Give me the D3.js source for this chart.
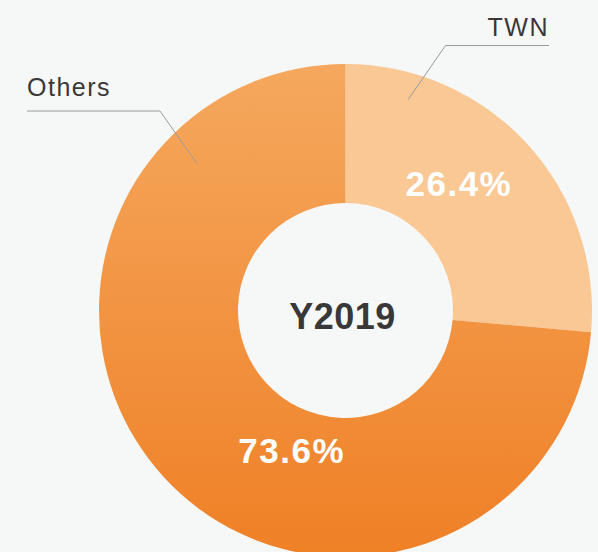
<!DOCTYPE html>
<html>
<head>
<meta charset="utf-8">
<script src="https://d3js.org/d3.v7.min.js"></script>
<style>
  body { margin: 0; padding: 0; background: #f6f7f7; }
  svg { display: block; }
  text { font-family: "Liberation Sans", Arial, sans-serif; }
</style>
</head>
<body>
<script>
// data
var categories = ["TWN", "Others"];
var shares = [26.4, 73.6];
var centerTitle = "Y2019";

var w = 598, h = 552;
var cx = 345.5, cy = 310.5;
var outerR = 246.5, innerR = 107.5;

var svg = d3.select("body").append("svg")
    .attr("width", w)
    .attr("height", h);

svg.append("rect").attr("width", w).attr("height", h).attr("fill", "#f6f7f7");

// gradient for the big slice, top to bottom (in the ring's own coords)
var defs = svg.append("defs");
var grad = defs.append("linearGradient")
    .attr("id", "othersGrad")
    .attr("gradientUnits", "userSpaceOnUse")
    .attr("x1", 0).attr("y1", -outerR)
    .attr("x2", 0).attr("y2", outerR);
grad.append("stop").attr("offset", "0%").attr("stop-color", "#f5a85e");
grad.append("stop").attr("offset", "100%").attr("stop-color", "#ef8026");

var fills = ["#f9c895", "url(#othersGrad)"];

var pie = d3.pie().sort(null).value(function(d) { return d; });
var arcs = pie(shares);

var arc = d3.arc().innerRadius(innerR).outerRadius(outerR);

var g = svg.append("g").attr("transform", "translate(" + cx + "," + cy + ")");

g.selectAll("path.slice")
    .data(arcs)
    .enter().append("path")
    .attr("class", "slice")
    .attr("d", arc)
    .attr("fill", function(d, i) { return fills[i]; });

// helper: point at an angle (radians from 12 o'clock, clockwise) and radius
function polar(a, r) { return [Math.sin(a) * r, -Math.cos(a) * r]; }

// percentage labels inside the ring (angle as a fraction of the slice)
var labelPlace = [{ t: 0.44, r: 170 }, { t: 0.40, r: 150 }];
g.selectAll("text.pct")
    .data(arcs)
    .enter().append("text")
    .attr("class", "pct")
    .attr("transform", function(d, i) {
        var a = d.startAngle + (d.endAngle - d.startAngle) * labelPlace[i].t;
        var p = polar(a, labelPlace[i].r);
        return "translate(" + p[0] + "," + p[1] + ")";
    })
    .attr("text-anchor", "middle")
    .attr("dy", "0.36em")
    .attr("fill", "#ffffff")
    .attr("font-weight", "bold")
    .attr("font-size", 35)
    .attr("letter-spacing", 1.5)
    .text(function(d, i) { return shares[i].toFixed(1) + "%"; });

// leader lines and category names
var leader = [
    { t: 0.174, r: 220, elbow: [100, -265], end: [203.5, -265], anchor: "end", gap: 9.5 },
    { t: 0.829, r: 209, elbow: [-185.5, -199.5], end: [-318.5, -199.5], anchor: "start", gap: 15 }
];

g.selectAll("polyline.leader")
    .data(arcs)
    .enter().append("polyline")
    .attr("class", "leader")
    .attr("fill", "none")
    .attr("stroke", "#9a9a9a")
    .attr("stroke-width", 1)
    .attr("points", function(d, i) {
        var L = leader[i];
        var a = d.startAngle + (d.endAngle - d.startAngle) * L.t;
        var p = polar(a, L.r);
        return [p, L.elbow, L.end].map(function(q) { return q.join(","); }).join(" ");
    });

g.selectAll("text.cat")
    .data(arcs)
    .enter().append("text")
    .attr("class", "cat")
    .attr("x", function(d, i) { return leader[i].end[0]; })
    .attr("y", function(d, i) { return leader[i].end[1] - leader[i].gap; })
    .attr("text-anchor", function(d, i) { return leader[i].anchor; })
    .attr("fill", "#3b3838")
    .attr("font-size", 25)
    .attr("letter-spacing", 1.5)
    .text(function(d, i) { return categories[i]; });

// centre title
g.append("text")
    .attr("x", -3)
    .attr("y", 6)
    .attr("dy", "0.36em")
    .attr("text-anchor", "middle")
    .attr("fill", "#383838")
    .attr("font-weight", "bold")
    .attr("font-size", 36)
    .attr("letter-spacing", 0.5)
    .text(centerTitle);
</script>
</body>
</html>
